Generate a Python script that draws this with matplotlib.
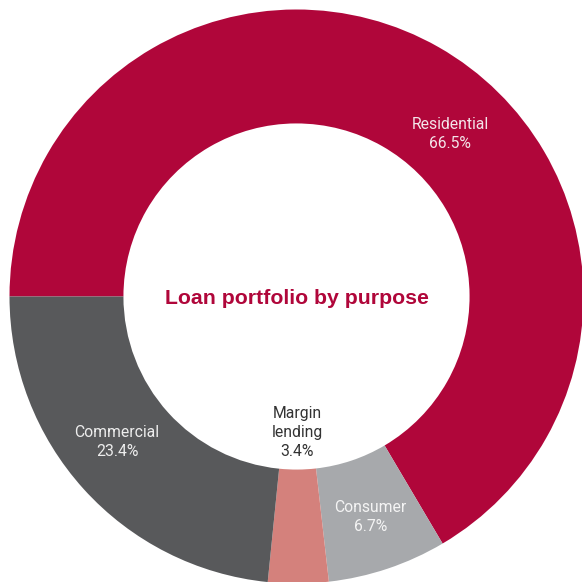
import matplotlib.pyplot as plt
import numpy as np

# Loan portfolio split, percent
purposes = ["Residential", "Consumer", "Margin\nlending", "Commercial"]
shares = [66.5, 6.7, 3.4, 23.4]
colors = ["#B0063A", "#A7A9AC", "#D4817C", "#58595B"]
text_colors = ["#F3E4E9", "#F4F4F4", "#333333", "#EDEDED"]

W = 582
cx, cy = 296.5, W - 296.5
r_out = 287
hole = 0.603

fig = plt.figure(figsize=(W / 100, W / 100), dpi=100)
ax = fig.add_axes([0, 0, 1, 1])

wedges, _ = ax.pie(shares, colors=colors, startangle=180, counterclock=False,
                   radius=r_out, center=(cx, cy),
                   wedgeprops=dict(width=r_out * (1 - hole), linewidth=0))

# label placement: angle override (deg) and radius as share of outer radius
label_angle = {0: 46.6, 3: 219.0}
label_r = [0.78, 0.81, 0.475, 0.805]

for i, w in enumerate(wedges):
    ang = label_angle.get(i, (w.theta1 + w.theta2) / 2)
    rr = label_r[i] * r_out
    x = cx + rr * np.cos(np.radians(ang))
    y = cy + rr * np.sin(np.radians(ang))
    ax.text(x, y, "{}\n{:.1f}%".format(purposes[i], shares[i]),
            ha="center", va="center", fontsize=11.3, color=text_colors[i],
            family="Roboto", linespacing=1.33)

ax.text(cx, cy - 2, "Loan portfolio by purpose", ha="center", va="center",
        fontsize=15.3, fontweight="bold", color="#B0063A", family="Liberation Sans")

ax.set_xlim(0, W)
ax.set_ylim(0, W)
ax.set_aspect("equal")
ax.axis("off")

fig.savefig("out.png", dpi=100)
